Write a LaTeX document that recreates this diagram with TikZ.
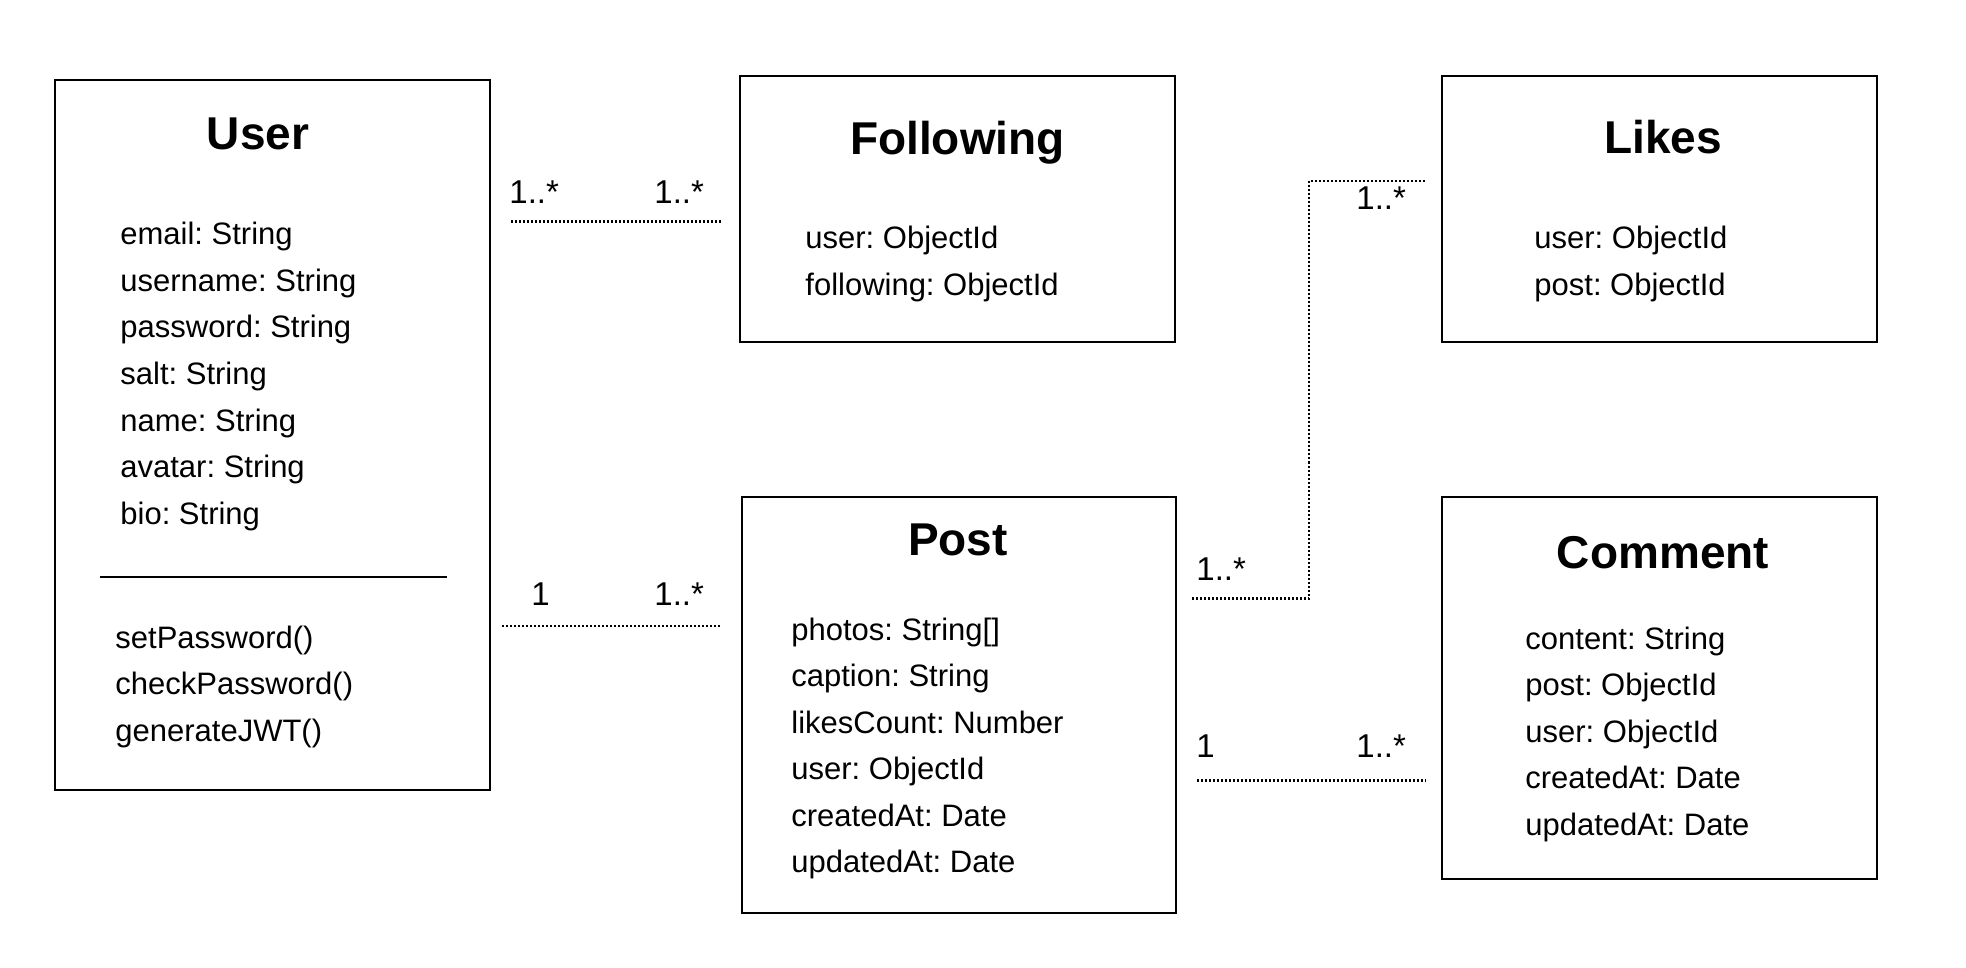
\documentclass[tikz,border=0pt]{standalone}
\usepackage{fontspec}
\setmainfont{Liberation Sans}
\frenchspacing
\begin{document}
\begin{tikzpicture}[x=0.5pt,y=-0.5pt,
  box/.style={draw,line width=1.2pt,rectangle,inner sep=0pt},
  ttl/.style={anchor=base,inner sep=0pt,font=\bfseries\fontsize{23}{27}\selectfont},
  attr/.style={anchor=base west,inner sep=0pt,font=\fontsize{15.5}{18}\selectfont},
  mult/.style={anchor=base west,inner sep=0pt,font=\fontsize{16.5}{19}\selectfont},
  assoc/.style={line width=1.2pt,dash pattern=on 1pt off 1pt}]
\useasboundingbox (0,0) rectangle (1966,968);
% boxes
\node[box,minimum width=217.5pt,minimum height=355pt] (user) at (272.5,435) {};
\node[box,minimum width=217.5pt,minimum height=133pt] (following) at (957.5,209) {};
\node[box,minimum width=217.5pt,minimum height=133pt] (likes) at (1659.5,209) {};
\node[box,minimum width=217pt,minimum height=208pt] (post) at (959,705) {};
\node[box,minimum width=217.5pt,minimum height=191pt] (comment) at (1659.5,688) {};
% User
\node[ttl] (userT) at (258,150) {User};
\node[attr] (u1) at (120,245) {email: String};
\node[attr] (u2) at (120,291.5) {username: String};
\node[attr] (u3) at (120,338) {password: String};
\node[attr] (u4) at (120,384.5) {salt: String};
\node[attr] (u5) at (120,431) {name: String};
\node[attr] (u6) at (120,477.5) {avatar: String};
\node[attr] (u7) at (120,524) {bio: String};
\coordinate (sepA) at (99.5,577);
\coordinate (sepB) at (446.5,577);
\draw[line width=1.2pt] (sepA) -- (sepB);
\node[attr] (m1) at (115,648) {setPassword()};
\node[attr] (m2) at (115,694.5) {checkPassword()};
\node[attr] (m3) at (115,741) {generateJWT()};
% Following
\node[ttl] (folT) at (957.5,155) {Following};
\node[attr] (f1) at (805,249) {user: ObjectId};
\node[attr] (f2) at (805,295.5) {following: ObjectId};
% Likes
\node[ttl] (likT) at (1663,154) {Likes};
\node[attr] (l1) at (1534,249) {user: ObjectId};
\node[attr] (l2) at (1534,295.5) {post: ObjectId};
% Post
\node[ttl] (posT) at (958,555) {Post};
\node[attr] (p1) at (791,640) {photos: String[]};
\node[attr] (p2) at (791,686.5) {caption: String};
\node[attr] (p3) at (791,733) {likesCount: Number};
\node[attr] (p4) at (791,779.5) {user: ObjectId};
\node[attr] (p5) at (791,826) {createdAt: Date};
\node[attr] (p6) at (791,872.5) {updatedAt: Date};
% Comment
\node[ttl] (comT) at (1663,568) {Comment};
\node[attr] (c1) at (1525,649) {content: String};
\node[attr] (c2) at (1525,695.5) {post: ObjectId};
\node[attr] (c3) at (1525,742) {user: ObjectId};
\node[attr] (c4) at (1525,788.5) {createdAt: Date};
\node[attr] (c5) at (1525,835) {updatedAt: Date};
% User - Following
\coordinate (uf1) at (511,221.5);
\coordinate (uf2) at (721,221.5);
\draw[assoc] (uf1) -- (uf2);
\node[mult] (ufL) at (509,204) {1..*};
\node[mult] (ufR) at (654,204) {1..*};
% User - Post
\coordinate (up1) at (502,626);
\coordinate (up2) at (722,626);
\draw[assoc] (up1) -- (up2);
\node[mult] (upL) at (531,605) {1};
\node[mult] (upR) at (654,605) {1..*};
% Post - Likes
\coordinate (pl1) at (1192,598.5);
\coordinate (pl4) at (1425,181);
\draw[assoc] (pl1) -- (1309,598.5) -- (1309,181) -- (pl4);
\node[mult] (plL) at (1196,580) {1..*};
\node[mult] (plR) at (1356,210) {1..*};
% Post - Comment
\coordinate (pc1) at (1197,780.5);
\coordinate (pc2) at (1426,780.5);
\draw[assoc] (pc1) -- (pc2);
\node[mult] (pcL) at (1196,757) {1};
\node[mult] (pcR) at (1356,757) {1..*};
\end{tikzpicture}
\end{document}
